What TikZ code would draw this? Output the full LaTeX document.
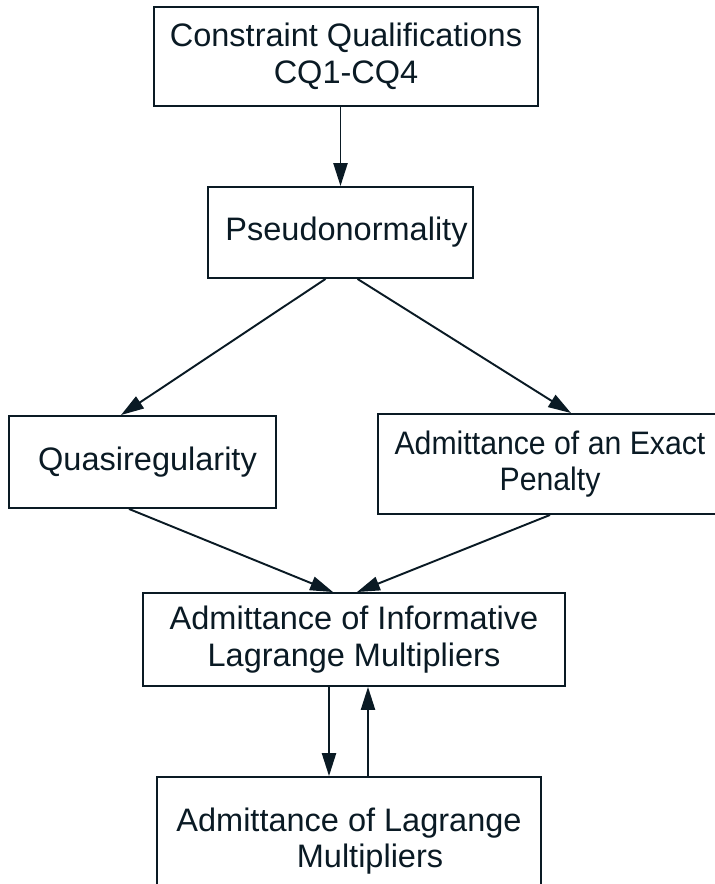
\documentclass[tikz,border=0pt]{standalone}
\usepackage{fontspec}
\setmainfont{Liberation Sans}
\newfontfamily\narrowfont[FakeStretch=0.93]{Liberation Sans}
\definecolor{inkdark}{RGB}{10, 26, 36}
\usepackage{tikz}
\usetikzlibrary{arrows.meta, positioning, calc}

\begin{document}
\begin{tikzpicture}[
  x=0.02cm, y=-0.02cm,
  box/.style={draw=inkdark, line width=1.1pt, text=inkdark, align=center, inner sep=0pt,
    font=\fontsize{18.5pt}{20.8pt}\selectfont},
  arr/.style={draw=inkdark, line width=1.1pt, -{Triangle[length=13pt, width=8pt]}},
]
  \useasboundingbox (0,0) rectangle (715,884);

  \node[box, minimum width=7.68cm, minimum height=1.98cm] (cq) at (346,56.5)
    {Constraint Qualifications\\CQ1-CQ4};
  \node[box, minimum width=5.3cm, minimum height=1.82cm] (pseudo) at (340.5,232.5)
    {\hspace*{0.24cm}Pseudonormality};
  \node[box, minimum width=5.34cm, minimum height=1.84cm] (quasi) at (142.5,462)
    {\hspace*{0.2cm}Quasiregularity};
  \node[box, minimum width=6.88cm, minimum height=2cm,
    font=\fontsize{18.5pt}{20.8pt}\narrowfont] (exact) at (550,464)
    {Admittance of an Exact\\Penalty};
  \node[box, minimum width=8.44cm, minimum height=1.86cm] (info) at (354,639.5)
    {Admittance of Informative\\Lagrange Multipliers};
  \node[box, minimum width=7.68cm, minimum height=2.56cm] (lagr) at (349,841)
    {Admittance of Lagrange\\\hspace*{0.84cm}Multipliers};

  % implications
  \draw[arr] (cq.south -| pseudo.north) -- (pseudo.north);
  \draw[arr] ($(pseudo.south)+(-15,0)$) -- ($(quasi.north)+(-21.5,0)$);
  \draw[arr] ($(pseudo.south)+(17,0)$) -- ($(exact.north)+(21,0)$);
  \draw[arr] ($(quasi.south)+(-13.5,0)$) -- ($(info.north)+(-21,0)$);
  \draw[arr] (exact.south) -- ($(info.north)+(3,0)$);
  \draw[arr] ($(info.south)+(-25,0)$) -- ($(lagr.north)+(-20,0)$);
  \draw[arr] ($(lagr.north)+(19,0)$) -- ($(info.south)+(14,0)$);
\end{tikzpicture}
\end{document}
